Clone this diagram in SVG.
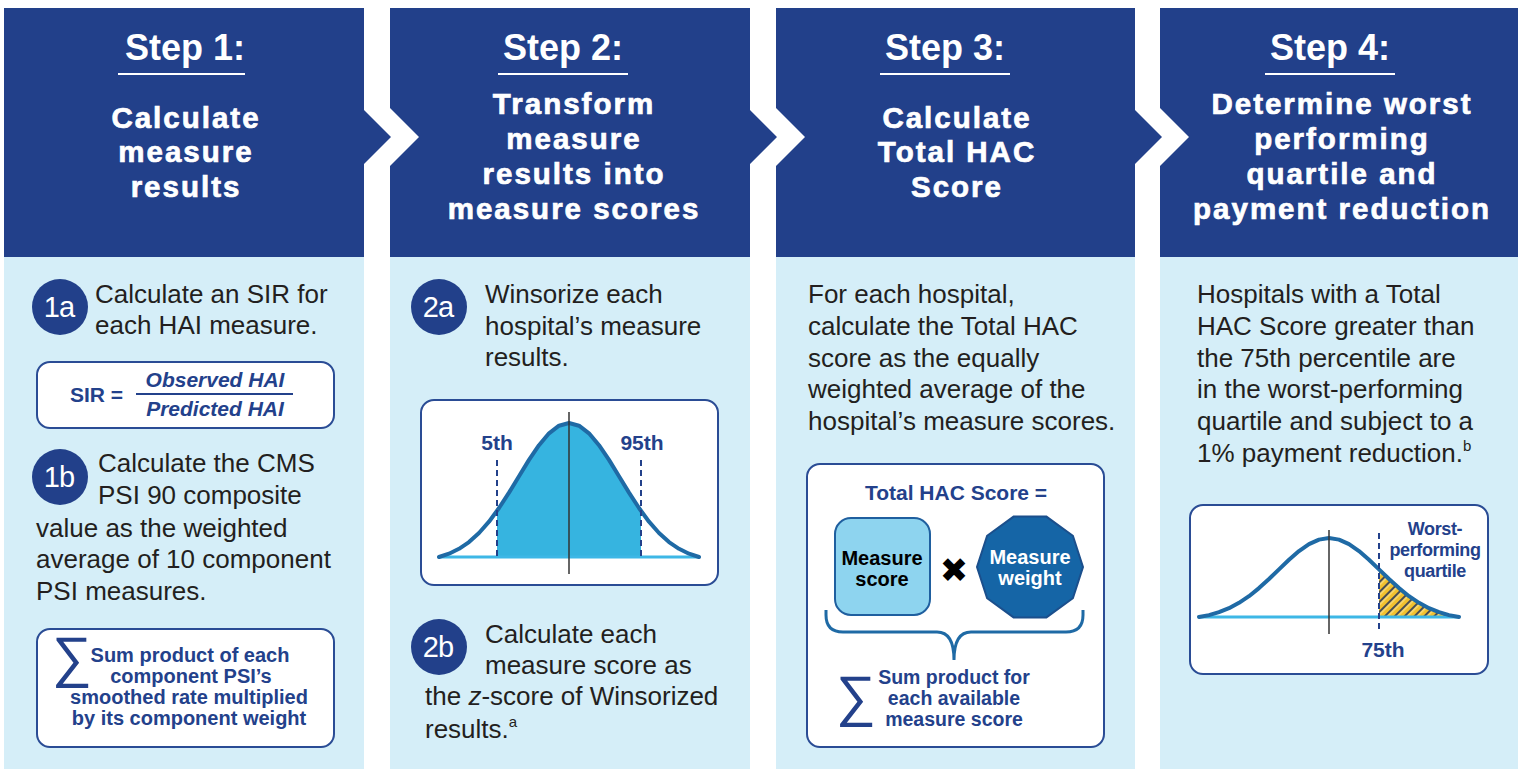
<svg xmlns="http://www.w3.org/2000/svg" width="1525" height="769" viewBox="0 0 1525 769">
<style>
.hdr{fill:#22408A}
.panel{fill:#D5EEF8}
.step{font-family:"Liberation Sans",Arial,sans-serif;font-weight:bold;font-size:36px;fill:#fff;text-anchor:middle}
.sub{font-family:"Liberation Sans",Arial,sans-serif;font-weight:bold;font-size:29.5px;fill:#fff;stroke:#fff;stroke-width:0.7px;text-anchor:middle;letter-spacing:2px}
.uline{stroke:#fff;stroke-width:2}
.body{font-family:"Liberation Sans",Arial,sans-serif;font-size:26px;fill:#231F20}
.badge{fill:#22408A}
.btxt{font-family:"Liberation Sans",Arial,sans-serif;font-size:29px;fill:#fff;text-anchor:middle;letter-spacing:-1px}
.box{fill:#fff;stroke:#2A4C95;stroke-width:2}
.nb{font-family:"Liberation Sans",Arial,sans-serif;font-weight:bold;fill:#23418B}
.mid{text-anchor:middle}
.sig{font-family:"Liberation Sans","DejaVu Sans",sans-serif;font-size:56px;fill:#23418B}
.curve{fill:none;stroke:#1F6AA5;stroke-width:4;stroke-linejoin:round;stroke-linecap:round}
.base{stroke:#3DB7E6;stroke-width:3}
.axis{stroke:#333;stroke-width:1.5}
.dash{stroke:#23418B;stroke-width:2;stroke-dasharray:6 4}
</style>
<defs>
<pattern id="hatch" patternUnits="userSpaceOnUse" width="7" height="7" patternTransform="rotate(45)">
<rect width="7" height="7" fill="#F2C12E"/>
<line x1="1" y1="0" x2="1" y2="7" stroke="#1E2E5A" stroke-width="1.6"/>
<line x1="3" y1="0" x2="3" y2="7" stroke="#FFF3C0" stroke-width="0.8"/>
</pattern>
</defs>

<g id="step1">
<polygon class="hdr" points="4,8 364,8 364,110 391,137 364,164 364,257 4,257"/>
<rect class="panel" x="4" y="257" width="360" height="512"/>
<text class="step" x="185" y="60">Step 1:</text>
<line class="uline" x1="118" y1="74" x2="245" y2="74"/>
<text class="sub" x="186" y="128">Calculate</text>
<text class="sub" x="186" y="162">measure</text>
<text class="sub" x="186" y="197">results</text>

<circle class="badge" cx="60" cy="307" r="28"/>
<text class="btxt" x="59" y="317">1a</text>
<text class="body" x="95" y="303" font-size="26.6">Calculate an SIR for</text>
<text class="body" x="95" y="334" font-size="26.6">each HAI measure.</text>

<rect class="box" x="37" y="362" width="297" height="66" rx="13"/>
<text class="nb" x="70" y="402" font-size="21">SIR =</text>
<text class="nb mid" x="215" y="387" font-size="21" font-style="italic">Observed HAI</text>
<line x1="136" y1="394" x2="293" y2="394" stroke="#23418B" stroke-width="2"/>
<text class="nb mid" x="215" y="416" font-size="21" font-style="italic">Predicted HAI</text>

<circle class="badge" cx="60" cy="477" r="28"/>
<text class="btxt" x="59" y="487">1b</text>
<text class="body" x="98" y="472" font-size="26.6">Calculate the CMS</text>
<text class="body" x="98" y="504" font-size="26.6">PSI 90 composite</text>
<text class="body" x="36" y="537" font-size="26.6">value as the weighted</text>
<text class="body" x="36" y="568" font-size="26.6">average of 10 component</text>
<text class="body" x="36" y="600" font-size="26.6">PSI measures.</text>

<rect class="box" x="37" y="629" width="297" height="118" rx="13"/>
<text class="sig" x="52" y="676">∑</text>
<text class="nb mid" x="190" y="662" font-size="20">Sum product of each</text>
<text class="nb mid" x="191" y="683" font-size="20">component PSI’s</text>
<text class="nb mid" x="189" y="704" font-size="20">smoothed rate multiplied</text>
<text class="nb mid" x="189" y="725" font-size="20">by its component weight</text>
</g>

<g id="step2">
<polygon class="hdr" points="390,8 750,8 750,110 777,137 750,164 750,257 390,257 390,166 419,137 390,108"/>
<rect class="panel" x="390" y="257" width="360" height="512"/>
<text class="step" x="563" y="60">Step 2:</text>
<line class="uline" x1="498" y1="74" x2="628" y2="74"/>
<text class="sub" x="574" y="114">Transform</text>
<text class="sub" x="574" y="149">measure</text>
<text class="sub" x="574" y="184">results into</text>
<text class="sub" x="574" y="219">measure scores</text>

<circle class="badge" cx="439" cy="307" r="28"/>
<text class="btxt" x="438" y="317">2a</text>
<text class="body" x="485" y="303">Winsorize each</text>
<text class="body" x="485" y="335">hospital’s measure</text>
<text class="body" x="485" y="366">results.</text>

<rect class="box" x="421" y="400" width="297" height="185" rx="13"/>
<path fill="#36B4E0" d="M497,557 L497,510.7 L499,508 L509,492.6 L519,476.3 L529,459.9 L539,445.2 L549,433.3 L559,425.7 L569,423 L579,425.7 L589,433.3 L599,445.2 L609,459.9 L619,476.3 L629,492.6 L639,508 L641,510.7 L641,557 Z"/>
<line class="base" x1="439" y1="557" x2="699" y2="557"/>
<path class="curve" d="M439,557 L449,553.7 L459,548.8 L469,542.1 L479,533 L489,521.7 L499,508 L509,492.6 L519,476.3 L529,459.9 L539,445.2 L549,433.3 L559,425.7 L569,423 L579,425.7 L589,433.3 L599,445.2 L609,459.9 L619,476.3 L629,492.6 L639,508 L649,521.7 L659,533 L669,542.1 L679,548.8 L689,553.7 L699,557"/>
<line class="dash" x1="497" y1="460" x2="497" y2="557"/>
<line class="dash" x1="641" y1="460" x2="641" y2="557"/>
<line class="axis" x1="569" y1="412" x2="569" y2="574"/>
<text class="nb mid" x="497" y="450" font-size="21">5th</text>
<text class="nb mid" x="642" y="450" font-size="21">95th</text>

<circle class="badge" cx="439" cy="647" r="28"/>
<text class="btxt" x="438" y="657">2b</text>
<text class="body" x="485" y="643">Calculate each</text>
<text class="body" x="485" y="674">measure score as</text>
<text class="body" x="425" y="705">the <tspan font-style="italic">z</tspan>-score of Winsorized</text>
<text class="body" x="425" y="738">results.<tspan font-size="15" dy="-11">a</tspan></text>
</g>

<g id="step3">
<polygon class="hdr" points="776,8 1135,8 1135,110 1162,137 1135,164 1135,257 776,257 776,166 805,137 776,108"/>
<rect class="panel" x="776" y="257" width="359" height="512"/>
<text class="step" x="945" y="60">Step 3:</text>
<line class="uline" x1="880" y1="74" x2="1010" y2="74"/>
<text class="sub" x="957" y="128">Calculate</text>
<text class="sub" x="957" y="162">Total HAC</text>
<text class="sub" x="957" y="197">Score</text>

<text class="body" x="808" y="303">For each hospital,</text>
<text class="body" x="808" y="335">calculate the Total HAC</text>
<text class="body" x="808" y="367">score as the equally</text>
<text class="body" x="808" y="398">weighted average of the</text>
<text class="body" x="808" y="430">hospital’s measure scores.</text>

<rect class="box" x="807" y="464" width="297" height="283" rx="13"/>
<text class="nb mid" x="956" y="500" font-size="21">Total HAC Score =</text>
<rect x="835" y="518" width="95" height="97" rx="16" fill="#8ED4EF" stroke="#1F5F9F" stroke-width="2"/>
<text class="mid" x="882" y="565" font-family="Liberation Sans,Arial,sans-serif" font-weight="bold" font-size="20" fill="#000">Measure</text>
<text class="mid" x="882" y="586" font-family="Liberation Sans,Arial,sans-serif" font-weight="bold" font-size="20" fill="#000">score</text>
<text class="mid" x="954" y="582" font-family="DejaVu Sans,sans-serif" font-size="34" fill="#000">✖</text>
<polygon points="1083,567 1072.9,535.8 1046.4,516.6 1013.6,516.6 987.1,535.8 977,567 987.1,598.2 1013.6,617.4 1046.4,617.4 1072.9,598.2" fill="#1565A6" stroke="#1B4F8C" stroke-width="2"/>
<text class="mid" x="1030" y="564" font-family="Liberation Sans,Arial,sans-serif" font-weight="bold" font-size="20" fill="#fff">Measure</text>
<text class="mid" x="1030" y="585" font-family="Liberation Sans,Arial,sans-serif" font-weight="bold" font-size="20" fill="#fff">weight</text>
<path d="M826,610 L826,615 Q826,632 843,632 L937,632 Q954,632 954,660 Q954,632 971,632 L1066,632 Q1083,632 1083,615 L1083,610" fill="none" stroke="#1F6AA5" stroke-width="3"/>
<text class="sig" x="836" y="715">∑</text>
<text class="nb mid" x="954" y="684" font-size="19.5">Sum product for</text>
<text class="nb mid" x="954" y="705" font-size="19.5">each available</text>
<text class="nb mid" x="954" y="726" font-size="19.5">measure score</text>
</g>

<g id="step4">
<polygon class="hdr" points="1160,8 1518,8 1518,257 1160,257 1160,166 1189,137 1160,108"/>
<rect class="panel" x="1160" y="257" width="358" height="512"/>
<text class="step" x="1330" y="60">Step 4:</text>
<line class="uline" x1="1265" y1="74" x2="1395" y2="74"/>
<text class="sub" x="1342" y="114">Determine worst</text>
<text class="sub" x="1342" y="149">performing</text>
<text class="sub" x="1342" y="184">quartile and</text>
<text class="sub" x="1342" y="219">payment reduction</text>

<text class="body" x="1197" y="303">Hospitals with a Total</text>
<text class="body" x="1197" y="335">HAC Score greater than</text>
<text class="body" x="1197" y="367">the 75th percentile are</text>
<text class="body" x="1197" y="398">in the worst-performing</text>
<text class="body" x="1197" y="430">quartile and subject to a</text>
<text class="body" x="1197" y="462">1% payment reduction.<tspan font-size="15" dy="-11">b</tspan></text>

<rect class="box" x="1190" y="505" width="298" height="169" rx="13"/>
<path fill="url(#hatch)" d="M1379,617 L1379,569.4 L1389,579 L1399,588.1 L1409,596.2 L1419,602.8 L1429,608.2 L1439,612.2 L1449,615.1 L1459,617 Z"/>
<line class="base" x1="1199" y1="617" x2="1459" y2="617"/>
<path class="curve" d="M1199,617 L1209,615.1 L1219,612.2 L1229,608.2 L1239,602.8 L1249,596.2 L1259,588.1 L1269,579 L1279,569.4 L1289,559.8 L1299,551.1 L1309,544.1 L1319,539.6 L1329,538 L1339,539.6 L1349,544.1 L1359,551.1 L1369,559.8 L1379,569.4 L1389,579 L1399,588.1 L1409,596.2 L1419,602.8 L1429,608.2 L1439,612.2 L1449,615.1 L1459,617"/>
<line class="axis" x1="1329" y1="530" x2="1329" y2="634"/>
<line class="dash" x1="1379" y1="533" x2="1379" y2="632"/>
<text class="nb mid" x="1435" y="535" font-size="18" letter-spacing="-0.4">Worst-</text>
<text class="nb mid" x="1435" y="556" font-size="18" letter-spacing="-0.4">performing</text>
<text class="nb mid" x="1435" y="577" font-size="18" letter-spacing="-0.4">quartile</text>
<text class="nb mid" x="1383" y="657" font-size="21">75th</text>
</g>
</svg>
